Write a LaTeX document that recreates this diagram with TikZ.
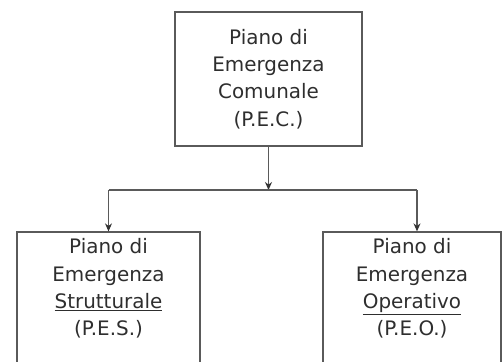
\documentclass[tikz,border=0pt]{standalone}
\usepackage{fontspec}
\setmainfont{DejaVu Sans}
\usetikzlibrary{arrows.meta}
\definecolor{linegray}{HTML}{5A5A5A}
\definecolor{textgray}{HTML}{2E2E2E}
\tikzset{
  box/.style={draw=linegray, line width=1.3bp, text=textgray, align=center,
    inner sep=0pt, font=\fontsize{20}{27.5}\selectfont},
  conn/.style={draw=linegray, line width=1.1bp},
  arr/.style={conn, -{Stealth[length=8bp,width=7bp,color=black!80]}}
}
\begin{document}
\begin{tikzpicture}[x=1bp,y=-1bp]
\useasboundingbox (0,0) rectangle (502,361);
\clip (0,0) rectangle (502,361);
\fill[white] (0,0) rectangle (502,361);
\node[box, minimum width=187bp, minimum height=134bp] (pec) at (268.5,79)
  {Piano di\\Emergenza\\Comunale\\(P.E.C.)};
\node[box, minimum width=183bp, minimum height=140bp] (pes) at (108.5,302)
  {Piano di\\Emergenza\\\underline{Strutturale}\\(P.E.S.)\\[2bp]};
\node[box, minimum width=178bp, minimum height=140bp] (peo) at (412,302)
  {Piano di\\Emergenza\\\underline{Operativo}\\(P.E.O.)\\[2bp]};
\coordinate (jc) at (268.5,190);
\coordinate (jl) at (108.5,190);
\coordinate (jr) at (417,190);
\draw[arr] (pec.south) -- (jc);
\draw[conn] (jl) -- (jr);
\draw[arr] (jl) -- (pes.north);
\draw[arr] (jr) -- (jr |- peo.north);
\end{tikzpicture}
\end{document}
